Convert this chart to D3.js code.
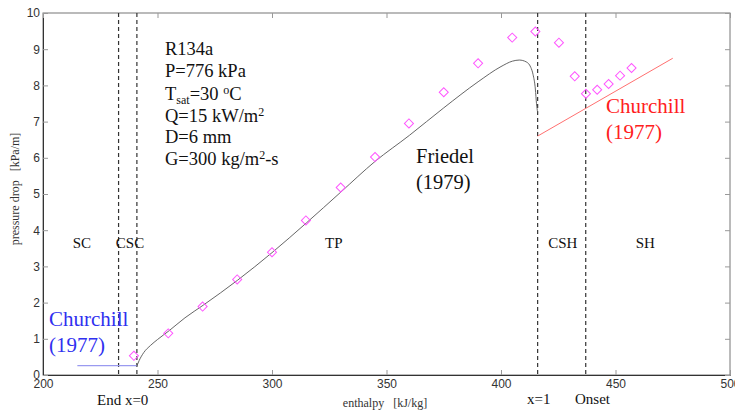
<!DOCTYPE html>
<html>
<head>
<meta charset="utf-8">
<script src="https://cdn.jsdelivr.net/npm/d3@7/dist/d3.min.js"></script>
<style>
  body { margin: 0; background: #fff; }
  .tick text { font-family: "Liberation Sans", Arial, sans-serif; font-size: 12px; fill: #333; }
  .serif { font-family: "Liberation Serif", "Times New Roman", serif; }
</style>
</head>
<body>
<script>
// measured data (enthalpy kJ/kg, pressure drop kPa/m)
var measH = [239.7, 254.7, 269.7, 284.8, 300, 314.8, 330, 345, 359.8, 375, 390, 404.9, 415, 425.3, 432.2, 437.1, 442, 447, 452, 457];
var measDP = [0.53, 1.15, 1.89, 2.64, 3.39, 4.27, 5.18, 6.02, 6.95, 7.81, 8.61, 9.32, 9.49, 9.18, 8.25, 7.77, 7.88, 8.04, 8.27, 8.48];

// Friedel (1979) correlation curve
var friedelH = [241, 242, 244, 247, 250, 255, 262, 270, 285, 300, 315, 330, 345, 360, 375, 390, 400, 405, 408, 411, 413, 414, 415, 415.5, 416];
var friedelDP = [0.25, 0.4, 0.62, 0.82, 0.98, 1.22, 1.58, 1.93, 2.62, 3.38, 4.2, 5.05, 5.9, 6.62, 7.38, 8.1, 8.52, 8.67, 8.7, 8.65, 8.5, 8.3, 7.9, 7.5, 7.25];

// Churchill (1977) single phase lines
var churchillLiqH = [215, 241];
var churchillLiqDP = [0.26, 0.26];
var churchillVapH = [416, 475];
var churchillVapDP = [6.6, 8.75];

// region boundaries
var boundaryH = [233, 241, 416, 437];
var regionLabels = ["SC", "CSC", "TP", "CSH", "SH"];
var regionH = [217, 238, 327, 427, 463];
var xTicks = [200, 250, 300, 350, 400, 450, 500];
var yTicks = [0, 1, 2, 3, 4, 5, 6, 7, 8, 9, 10];

var W = 735, H = 413;
var m = {left: 43, right: 5, top: 13, bottom: 38};

var svg = d3.select("body").append("svg").attr("width", W).attr("height", H);

var x = d3.scaleLinear().domain([200, 500]).range([m.left, W - m.right]);
var y = d3.scaleLinear().domain([0, 10]).range([H - m.bottom, m.top]);

// frame
svg.append("rect")
  .attr("x", x(200)).attr("y", y(10))
  .attr("width", x(500) - x(200)).attr("height", y(0) - y(10))
  .attr("fill", "none").attr("stroke", "#777").attr("stroke-width", 1);

// axes with inward ticks
var gx = svg.append("g").attr("transform", "translate(0," + y(0) + ")")
  .call(d3.axisBottom(x).tickValues(xTicks).tickSizeInner(-5).tickSizeOuter(0).tickPadding(4));
var gy = svg.append("g").attr("transform", "translate(" + x(200) + ",0)")
  .call(d3.axisLeft(y).tickValues(yTicks).tickSizeInner(-5).tickSizeOuter(0).tickPadding(3));
var gt = svg.append("g").attr("transform", "translate(0," + y(10) + ")")
  .call(d3.axisTop(x).tickValues(xTicks).tickSizeInner(-5).tickSizeOuter(0).tickFormat(""));
var gr = svg.append("g").attr("transform", "translate(" + x(500) + ",0)")
  .call(d3.axisRight(y).tickValues(yTicks).tickSizeInner(-5).tickSizeOuter(0).tickFormat(""));
gx.select(".domain").attr("stroke", "#333");
gy.select(".domain").attr("stroke", "#333");
gt.select(".domain").remove();
gr.select(".domain").remove();
svg.selectAll(".tick line").attr("stroke", "#999");

// dashed boundaries
svg.selectAll(".bound").data(boundaryH).enter().append("line")
  .attr("x1", function (d) { return x(d); }).attr("x2", function (d) { return x(d); })
  .attr("y1", y(10)).attr("y2", y(0))
  .attr("stroke", "#333").attr("stroke-width", 1.2).attr("stroke-dasharray", "4,3");

// Churchill lines
svg.append("line")
  .attr("x1", x(churchillLiqH[0])).attr("x2", x(churchillLiqH[1]))
  .attr("y1", y(churchillLiqDP[0])).attr("y2", y(churchillLiqDP[1]))
  .attr("stroke", "#9a9af0").attr("stroke-width", 1.3);
svg.append("line")
  .attr("x1", x(churchillVapH[0])).attr("x2", x(churchillVapH[1]))
  .attr("y1", y(churchillVapDP[0])).attr("y2", y(churchillVapDP[1]))
  .attr("stroke", "#ff7070").attr("stroke-width", 1);

// Friedel curve
var line = d3.line().x(function (d) { return x(d[0]); }).y(function (d) { return y(d[1]); })
  .curve(d3.curveMonotoneX);
svg.append("path").datum(d3.zip(friedelH, friedelDP))
  .attr("d", line).attr("fill", "none").attr("stroke", "#555").attr("stroke-width", 0.9);

// measured diamonds
svg.selectAll(".meas").data(d3.zip(measH, measDP)).enter().append("path")
  .attr("transform", function (d) { return "translate(" + x(d[0]) + "," + y(d[1]) + ") rotate(45)"; })
  .attr("d", "M-3.2,-3.2H3.2V3.2H-3.2Z")
  .attr("fill", "none").attr("stroke", "#ff55ff").attr("stroke-width", 1);

// region labels
svg.selectAll(".reg").data(regionLabels).enter().append("text")
  .attr("class", "serif")
  .attr("x", function (d, i) { return x(regionH[i]); }).attr("y", 248)
  .attr("text-anchor", "middle").attr("font-size", 15).attr("fill", "#111")
  .text(function (d) { return d; });

// parameter block
var params = svg.append("text").attr("class", "serif").attr("font-size", 18.5).attr("fill", "#111");
function pline(yy) { return params.append("tspan").attr("x", 165).attr("y", yy); }
pline(55).text("R134a");
pline(77).text("P=776 kPa");
var t = pline(100); t.text("T");
t.append("tspan").attr("font-size", 12).attr("dy", 4).text("sat");
t.append("tspan").attr("dy", -4).text("=30 ");
t.append("tspan").attr("font-size", 12).attr("dy", -6).text("o");
t.append("tspan").attr("dy", 6).text("C");
var q = pline(122); q.text("Q=15 kW/m");
q.append("tspan").attr("font-size", 12).attr("dy", -6).text("2");
pline(143).text("D=6 mm");
var g = pline(165); g.text("G=300 kg/m");
g.append("tspan").attr("font-size", 12).attr("dy", -6).text("2");
g.append("tspan").attr("dy", 6).text("-s");

// correlation labels
function twoLine(xx, yy, a, b, col, fs) {
  var tt = svg.append("text").attr("class", "serif").attr("font-size", fs).attr("fill", col);
  tt.append("tspan").attr("x", xx).attr("y", yy).text(a);
  tt.append("tspan").attr("x", xx).attr("y", yy + 26).text(b);
}
twoLine(416, 163, "Friedel", "(1979)", "#111", 20.5);
twoLine(49, 326, "Churchill", "(1977)", "#3030f0", 21);
twoLine(606, 113, "Churchill", "(1977)", "#ff2020", 21);

// bottom annotations
svg.append("text").attr("class", "serif").attr("x", 97).attr("y", 405)
  .attr("font-size", 15).attr("fill", "#111").text("End x=0");
svg.append("text").attr("class", "serif").attr("x", 527).attr("y", 404)
  .attr("font-size", 15).attr("fill", "#111").text("x=1");
svg.append("text").attr("class", "serif").attr("x", 575).attr("y", 404)
  .attr("font-size", 15).attr("fill", "#111").text("Onset");

// axis titles
svg.append("text").attr("class", "serif").attr("x", 385).attr("y", 407)
  .attr("text-anchor", "middle").attr("font-size", 12).attr("fill", "#333")
  .attr("xml:space", "preserve").text("enthalpy   [kJ/kg]");
svg.append("text").attr("class", "serif")
  .attr("transform", "translate(19,189) rotate(-90)")
  .attr("text-anchor", "middle").attr("font-size", 12).attr("fill", "#333")
  .attr("xml:space", "preserve").text("pressure drop   [kPa/m]");
</script>
</body>
</html>
